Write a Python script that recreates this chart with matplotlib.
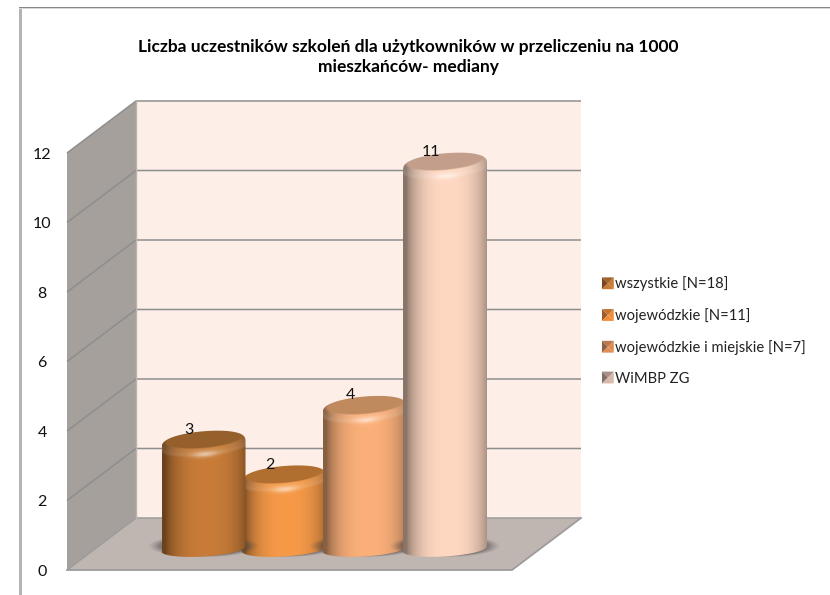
import numpy as np
import matplotlib
matplotlib.use("Agg")
import matplotlib.pyplot as plt
from matplotlib.patches import Polygon, Rectangle, Ellipse
from matplotlib.path import Path
from matplotlib.legend_handler import HandlerBase

# ---- data
series_labels = ["wszystkie [N=18]", "wojewódzkie [N=11]", "wojewódzkie i miejskie [N=7]", "WiMBP ZG"]
series_values = [3, 2, 4, 11]
y_ticks = [0, 2, 4, 6, 8, 10, 12]
title_text = "Liczba uczestników szkoleń dla użytkowników w przeliczeniu na 1000\nmieszkańców- mediany"

# ---- styles
main_colors = ["#c87c38", "#f69a48", "#fbb07a", "#ffd8c2"]
top_colors = ["#96602c", "#b06e30", "#c08a5e", "#c39e8b"]
icon_colors = [("#7d4620", "#c97a35", "#a0602a"), ("#a05c28", "#f08c38", "#c07430"),
               ("#8f5f48", "#e08c52", "#b87850"), ("#7f706a", "#d8b8a8", "#a89088")]
WALL = "#a5a09c"; FLOOR = "#bfb6b2"; BACK = "#fdefe8"; GRID = "#8e8e8e"; EDGE = "#9c9c9c"

W, H = 830, 595
LEFT, RIGHT, BOTTOM, TOP = 67, 512, 570, 153   # front plane, pixels
CENTER0, STEP = 203.5, 80.5                    # px of first bar, px per series slot
UY = (BOTTOM - TOP) / 12.0                     # px per value unit
DX = 69 / STEP                                 # depth shift, series units
DY = 52 / UY                                   # depth shift, value units

plt.rcParams["font.family"] = ["Lato", "DejaVu Sans"]
fig = plt.figure(figsize=(W / 100, H / 100), dpi=100, facecolor="white")
ax = fig.add_axes([LEFT / W, 1 - BOTTOM / H, (RIGHT - LEFT) / W, (BOTTOM - TOP) / H])
ax.patch.set_visible(False)
for s in ax.spines.values():
    s.set_visible(False)
xlim = ((LEFT - CENTER0) / STEP, (RIGHT - CENTER0) / STEP)

# chart frame
fig.add_artist(Rectangle((18.5 / W, 0), 3 / W, 1 - 7 / H, transform=fig.transFigure,
                         fc="#b4b4b4", ec="none"))
fig.add_artist(Rectangle((18.5 / W, 1 - 8.2 / H), 1, 1.4 / H, transform=fig.transFigure,
                         fc="#868686", ec="none"))
fig.add_artist(Rectangle((18.5 / W, 1 - 9.2 / H), 1, 1.0 / H, transform=fig.transFigure,
                         fc="#d8d8d8", ec="none"))

x0, x1 = xlim
ymax = y_ticks[-1]
# walls
ax.add_patch(Polygon([(x0 + DX, DY), (x1 + DX, DY), (x1 + DX, ymax + DY), (x0 + DX, ymax + DY)],
                     fc=BACK, ec="none", zorder=1, clip_on=False))
ax.add_patch(Polygon([(x0, 0), (x0 + DX, DY), (x0 + DX, ymax + DY), (x0, ymax)],
                     fc=WALL, ec="none", zorder=1.1, clip_on=False))
ax.add_patch(Polygon([(x0, 0), (x1, 0), (x1 + DX, DY), (x0 + DX, DY)],
                     fc=FLOOR, ec="none", zorder=1.2, clip_on=False))
for t in y_ticks:
    c = GRID if t else EDGE
    ax.plot([x0, x0 + DX, x1 + DX], [t, t + DY, t + DY], color=c, lw=1.1, zorder=1.5,
            clip_on=False, solid_capstyle="butt")
ax.plot([x0, x1, x1 + DX], [0, 0, DY], color=EDGE, lw=1.3, zorder=1.6, clip_on=False)
ax.plot([x0 + DX, x0 + DX], [DY, ymax + DY], color="#b8b4b0", lw=1, zorder=1.6, clip_on=False)

# ---- cylinders
RX = 42 / STEP
BASE = 21 / UY      # base-centre height above front edge
TILT = 3.5 / UY     # ellipse tilt in value units at the rim
B_TOP = 13.5 / UY
B_BOT = 7.5 / UY


def hex_rgb(c):
    return np.array(matplotlib.colors.to_rgb(c))


def draw_bar(i, v, z):
    xc = float(i)
    yc = v + BASE
    # soft floor shadow
    for k, a in zip(np.linspace(1.30, 1.02, 6), [.06, .09, .12, .15, .18, .2]):
        ax.add_patch(Ellipse((xc, BASE + 3 / UY), 2 * RX * k, 2 * (9.5 / UY) * (0.45 + k * .55),
                             fc="#4a4548", ec="none", alpha=a, zorder=z - .5, clip_on=False))
    ny, nx = int((v + 1.2) * UY) * 2, 2 * int(2 * RX * STEP)
    xs = np.linspace(xc - RX, xc + RX, nx)
    ys = np.linspace(BASE - B_BOT - 0.4, yc + B_TOP + 0.2, ny)
    X, Y = np.meshgrid(xs, ys)
    u = (X - xc) / RX
    # body shading: dark edges, bright in the middle
    shade = 0.54 + 0.46 * np.clip(1 - np.abs(u - 0.08) ** 2.6, 0, 1) ** 0.75
    main = hex_rgb(main_colors[i])
    img = main[None, None, :] * shade[..., None]
    root = np.sqrt(np.clip(1 - u ** 2, 0, 1))
    # bevel under the top face
    rim_low = yc + TILT * u - (5 + 8 * root) / UY
    t = np.clip((Y - rim_low) / (8 / UY), 0, 1)
    band = np.clip((Y - rim_low) / (2.5 / UY), 0, 1)
    light = np.exp(-((u - 0.03) / 0.30) ** 2) * np.exp(-((Y - rim_low - 2.5 / UY) / (3 / UY)) ** 2)
    img = img + (band * (0.14 - 0.08 * t))[..., None] * (1 - img)
    img = img + light[..., None] * 0.5 * (1 - img)
    # top face
    face_y = yc + 5 / UY + TILT * u
    face = (u / 0.97) ** 2 + ((Y - face_y) / (9.5 / UY)) ** 2
    top = hex_rgb(top_colors[i])
    ft = np.clip((1.0 - face) / 0.16, 0, 1)[..., None]
    img = img * (1 - ft) + top[None, None, :] * ft
    img = np.clip(img, 0, 1)
    im = ax.imshow(img, extent=(xs[0], xs[-1], ys[0], ys[-1]), origin="lower", aspect="auto",
                   interpolation="bilinear", zorder=z)
    # silhouette: rounded shoulders on top, shallow tilted ellipse below
    tt = np.linspace(0, np.pi, 80)
    upper = [(xc + RX * np.cos(a), yc + TILT * np.cos(a) + B_TOP * np.sin(a) ** 0.72) for a in tt]
    lower = [(xc - RX * np.cos(a), BASE - 2.5 / UY * np.cos(a) - B_BOT * np.sin(a)) for a in tt]
    path = Path(upper + lower + [upper[0]], closed=False)
    im.set_clip_path(path, transform=ax.transData)
    im.set_clip_box(fig.bbox)
    # value label
    ax.text(xc - 0.18, yc + B_TOP + 0.03, str(v), ha="center", va="center", fontsize=11.5,
            color="#111111", zorder=20, clip_on=False)


for n, i in enumerate([1, 2, 3, 0]):
    draw_bar(i, series_values[i], 3 + n)

ax.set_xlim(*xlim)
ax.set_ylim(0, ymax)
ax.set_xticks([])
ax.set_yticks(y_ticks)
ax.tick_params(axis="y", length=0, pad=18, labelsize=11.5, labelcolor="#111111")
for lab in ax.get_yticklabels():
    lab.set_ha("center")

fig.text(408 / W, 1 - 57 / H, title_text, ha="center", va="center", fontsize=12.5,
         fontweight="bold", color="black", linespacing=1.25)


# ---- legend with bevelled square keys
class BevelKey:
    def __init__(self, colors):
        self.colors = colors


class BevelHandler(HandlerBase):
    def create_artists(self, legend, orig, xd, yd, width, height, fontsize, trans):
        s = 8.5
        x = width - s - xd
        y = (height - s) / 2 - yd
        dark, mid, side = orig.colors
        c = (x + s / 2, y + s / 2)
        a, b, cc, d = (x, y), (x + s, y), (x + s, y + s), (x, y + s)
        out = []
        for tri, col in [((a, d, c), dark), ((b, cc, c), mid), ((d, cc, c), side), ((a, b, c), mid)]:
            out.append(Polygon(tri, fc=col, ec="none", transform=trans))
        return out


handles = [BevelKey(c) for c in icon_colors]
leg = ax.legend(handles, series_labels, handler_map={BevelKey: BevelHandler()}, frameon=False,
                loc="upper left", bbox_to_anchor=(602 / W, 1 - 276.5 / H), bbox_transform=fig.transFigure,
                fontsize=10.6, labelspacing=1.14, handlelength=0.8, handletextpad=0.1, borderpad=0,
                borderaxespad=0, labelcolor="#222222")
fig.savefig("out.png", dpi=100, facecolor="white")
